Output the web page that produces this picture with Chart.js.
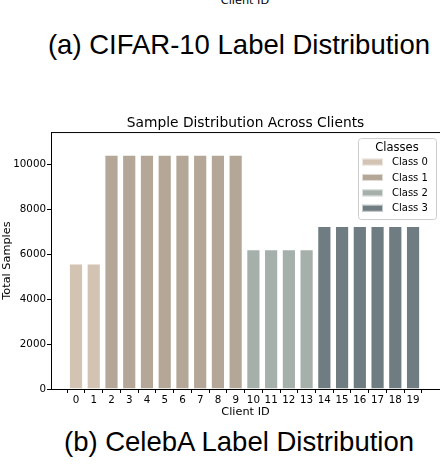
<!DOCTYPE html>
<html>
<head>
<meta charset="utf-8">
<script src="https://cdn.jsdelivr.net/npm/chart.js@4.4.1/dist/chart.umd.min.js"></script>
<style>
  html, body { margin: 0; padding: 0; background: #fff; }
  body { width: 440px; height: 466px; position: relative; overflow: hidden; }
  .cut { position: absolute; left: 0; width: 490px; text-align: center; top: -5px;
         font: 11.3px/11.3px 'DejaVu Sans', sans-serif; color: #000; }
  .caption { position: absolute; left: 0; width: 478px; text-align: center;
             font: 27.5px/27.5px 'Liberation Sans', Arial, sans-serif; color: #000; white-space: nowrap; }
  #chartWrap { position: absolute; left: 0; top: 112px; width: 440px; height: 310px; }
</style>
</head>
<body>
<div class="cut">Client ID</div>
<div class="caption" style="top:30.7px">(a) CIFAR-10 Label Distribution</div>
<div id="chartWrap"><canvas id="distChart" width="440" height="310"></canvas></div>
<div class="caption" style="top:428.2px">(b) CelebA Label Distribution</div>
<script>
// chart data
const clientIds = [0, 1, 2, 3, 4, 5, 6, 7, 8, 9, 10, 11, 12, 13, 14, 15, 16, 17, 18, 19];
const clientClass = [0, 0, 1, 1, 1, 1, 1, 1, 1, 1, 2, 2, 2, 2, 3, 3, 3, 3, 3, 3];
const totalSamples = [5580, 5580, 10410, 10410, 10410, 10410, 10410, 10410, 10410, 10410,
                      6210, 6210, 6210, 6210, 7240, 7240, 7240, 7240, 7240, 7240];
const classLabels = ['Class 0', 'Class 1', 'Class 2', 'Class 3'];
const yTicks = [0, 2000, 4000, 6000, 8000, 10000];

const classColors = ['#d3c3b3', '#b4a797', '#a6b0ab', '#6f7c81'];
const FONT = "'DejaVu Sans', sans-serif";

// one dataset per class so the legend gets one entry each
const datasets = classLabels.map((label, c) => ({
    label,
    data: clientIds.filter((_, i) => clientClass[i] === c).map(id => ({ x: id, y: totalSamples[id] })),
    backgroundColor: classColors[c],
    borderColor: 'rgba(255,255,255,0.55)',
    borderWidth: 1,
    grouped: false,
    barPercentage: 0.8,
    categoryPercentage: 1
}));

// top spine (matplotlib frame)
const framePlugin = {
    id: 'frame',
    afterDraw(chart) {
        const { ctx, chartArea } = chart;
        ctx.save();
        ctx.strokeStyle = '#000';
        ctx.lineWidth = 1;
        ctx.beginPath();
        ctx.moveTo(chartArea.left, chartArea.top + 0.5);
        ctx.lineTo(chartArea.right, chartArea.top + 0.5);
        ctx.stroke();
        ctx.restore();
    }
};

// matplotlib style legend box in the upper right of the axes
const boxLegendPlugin = {
    id: 'boxLegend',
    afterDraw(chart) {
        const { ctx, chartArea } = chart;
        const w = 78, h = 81;
        const x = chartArea.right - 4 - w, y = chartArea.top + 6;
        ctx.save();
        ctx.fillStyle = 'rgba(255,255,255,0.8)';
        ctx.strokeStyle = '#cccccc';
        ctx.lineWidth = 1;
        ctx.beginPath();
        ctx.roundRect(x + 0.5, y + 0.5, w, h, 3);
        ctx.fill();
        ctx.stroke();

        ctx.fillStyle = '#000';
        ctx.textBaseline = 'middle';
        ctx.textAlign = 'center';
        ctx.font = '11.5px ' + FONT;
        ctx.fillText('Classes', x + w / 2, y + 9.5);

        ctx.textAlign = 'left';
        ctx.font = '10px ' + FONT;
        chart.data.datasets.forEach((ds, i) => {
            const cy = y + 24 + i * 15.4;
            ctx.fillStyle = ds.backgroundColor;
            ctx.fillRect(x + 4, cy - 3.5, 21, 7);
            ctx.strokeStyle = 'rgba(255,255,255,0.6)';
            ctx.strokeRect(x + 4.5, cy - 3, 20, 6);
            ctx.fillStyle = '#000';
            ctx.fillText(ds.label, x + 34, cy + 0.5);
        });
        ctx.restore();
    }
};

new Chart(document.getElementById('distChart'), {
    type: 'bar',
    data: { datasets },
    options: {
        responsive: false,
        animation: false,
        layout: { padding: { left: 0, right: 0, top: 0, bottom: 0 } },
        plugins: {
            legend: { display: false },
            tooltip: { enabled: false },
            title: {
                display: true, text: 'Sample Distribution Across Clients', fullSize: false,
                color: '#000', font: { family: FONT, size: 13.8, weight: 'normal' },
                padding: { top: 3.5, bottom: 0 }
            }
        },
        scales: {
            x: {
                type: 'linear', min: -1.41, max: 20.52, offset: false,
                afterBuildTicks: s => { s.ticks = clientIds.map(v => ({ value: v })); },
                afterFit: s => { s.height = 33; },
                grid: { drawOnChartArea: false, drawTicks: true, tickLength: 4, tickColor: '#000' },
                border: { display: true, color: '#000', width: 1 },
                ticks: { color: '#000', font: { family: FONT, size: 10.3 }, padding: 1, maxRotation: 0, autoSkip: false,
                         callback: v => String(v) },
                title: { display: true, text: 'Client ID', color: '#000', font: { family: FONT, size: 11.3 },
                         padding: { top: 0, bottom: 3 } }
            },
            y: {
                min: 0, max: 11420,
                afterBuildTicks: s => { s.ticks = yTicks.map(v => ({ value: v })); },
                afterFit: s => { s.width = 51; },
                grid: { drawOnChartArea: false, drawTicks: true, tickLength: 4, tickColor: '#000' },
                border: { display: true, color: '#000', width: 1 },
                ticks: { color: '#000', font: { family: FONT, size: 10.3 }, padding: 1, callback: v => String(v) },
                title: { display: true, text: 'Total Samples', color: '#000', font: { family: FONT, size: 11.3 }, padding: 0 }
            }
        }
    },
    plugins: [framePlugin, boxLegendPlugin]
});
</script>
</body>
</html>
